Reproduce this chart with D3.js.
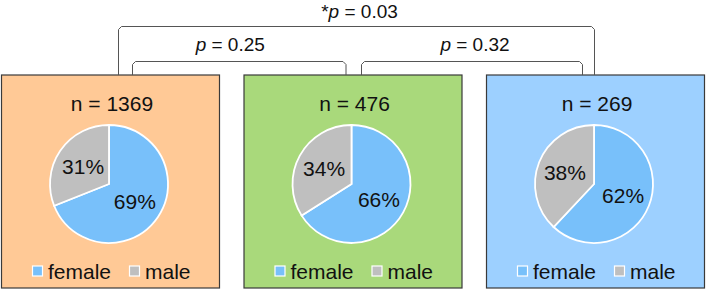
<!DOCTYPE html>
<html>
<head>
<meta charset="utf-8">
<script src="https://cdn.jsdelivr.net/npm/d3@7"></script>
<style>
  body { margin: 0; background: #fff; }
  text { font-family: "Liberation Sans", Arial, sans-serif; fill: #111; }
</style>
</head>
<body>
<div id="chart"></div>
<script>
const width = 709, height = 298;

// groups
const groups = ["group1", "group2", "group3"];
const counts = [1369, 476, 269];
const femalePct = [69, 66, 62];
const malePct = [31, 34, 38];
const panelColors = ["#FFC996", "#A9D97B", "#9DD0FF"];
const sexLabels = ["female", "male"];
const sexColors = ["#78C0FA", "#BFBFBF"];

// comparisons between groups
const comparisons = [
    {a: 0, b: 1, star: "", p: "0.25", level: 0},
    {a: 1, b: 2, star: "", p: "0.32", level: 0},
    {a: 0, b: 2, star: "*", p: "0.03", level: 1}
];

const svg = d3.select("#chart").append("svg")
    .attr("width", width)
    .attr("height", height);

const panelW = 218, panelTop = 75, panelBottom = 288;
const xScale = d3.scalePoint()
    .domain(groups)
    .range([110.5, 595.5]);

const panels = svg.selectAll("g.panel")
    .data(groups)
    .enter().append("g")
    .attr("class", "panel")
    .attr("transform", d => "translate(" + xScale(d) + ",0)");

panels.append("rect")
    .attr("x", -panelW / 2)
    .attr("y", panelTop)
    .attr("width", panelW)
    .attr("height", panelBottom - panelTop)
    .attr("fill", (d, i) => panelColors[i])
    .attr("stroke", "#3a3a3a")
    .attr("stroke-width", 1.2);

panels.append("text")
    .attr("x", 1.5)
    .attr("y", 111)
    .attr("text-anchor", "middle")
    .attr("font-size", 21)
    .text((d, i) => "n = " + counts[i]);

const pie = d3.pie().sort(null).value(d => d.value);
const radius = 59;
const arc = d3.arc().innerRadius(0).outerRadius(radius);
const labelArc = d3.arc().innerRadius(radius * 0.53).outerRadius(radius * 0.53);

panels.each(function (d, i) {
    const g = d3.select(this).append("g")
        .attr("transform", "translate(-1.5,184)");
    const slices = pie([
        {key: "female", value: femalePct[i]},
        {key: "male", value: malePct[i]}
    ]);
    g.selectAll("path")
        .data(slices)
        .enter().append("path")
        .attr("d", arc)
        .attr("fill", (s, j) => sexColors[j])
        .attr("stroke", "#fff")
        .attr("stroke-width", 1.8);
    g.selectAll("text")
        .data(slices)
        .enter().append("text")
        .attr("transform", s => "translate(" + labelArc.centroid(s) + ")")
        .attr("dy", "0.36em")
        .attr("text-anchor", "middle")
        .attr("font-size", 21)
        .text(s => s.data.value + "%");

    // legend
    const legend = d3.select(this).append("g")
        .attr("transform", "translate(-78,271)");
    const itemX = [0, 97];
    sexLabels.forEach((lab, j) => {
        legend.append("rect")
            .attr("x", itemX[j])
            .attr("y", -5)
            .attr("width", 10)
            .attr("height", 10)
            .attr("fill", sexColors[j])
            .attr("stroke", "#fff")
            .attr("stroke-width", 1.2);
        legend.append("text")
            .attr("x", itemX[j] + 15.5)
            .attr("y", 0)
            .attr("dy", "0.36em")
            .attr("font-size", 21)
            .text(lab);
    });
});

// brackets
const bracketY = [61.5, 26.5];
const labelDx = [-9, 3, 3];
comparisons.forEach((c, k) => {
    let x1, x2;
    if (c.level === 1) {
        x1 = xScale(groups[c.a]) + 8;
        x2 = xScale(groups[c.b]) - 1;
    } else {
        x1 = xScale(groups[c.a]) + (c.a === 0 ? 22 : 8.5);
        x2 = xScale(groups[c.b]) - (c.b === 2 ? 13 : 7);
    }
    const y = bracketY[c.level];
    svg.append("path")
        .attr("d", d3.line().curve(d3.curveLinear)([
            [x1, panelTop], [x1, y + 3], [x1 + 3, y], [x2 - 3, y], [x2, y + 3], [x2, panelTop]
        ]))
        .attr("fill", "none")
        .attr("stroke", "#555")
        .attr("stroke-width", 1);
    const t = svg.append("text")
        .attr("x", (x1 + x2) / 2 + labelDx[k])
        .attr("y", c.level === 1 ? 18 : y - 10.5)
        .attr("text-anchor", "middle")
        .attr("font-size", 19);
    t.append("tspan").text(c.star);
    t.append("tspan").attr("font-style", "italic").text("p");
    t.append("tspan").text(" = " + c.p);
});
</script>
</body>
</html>
